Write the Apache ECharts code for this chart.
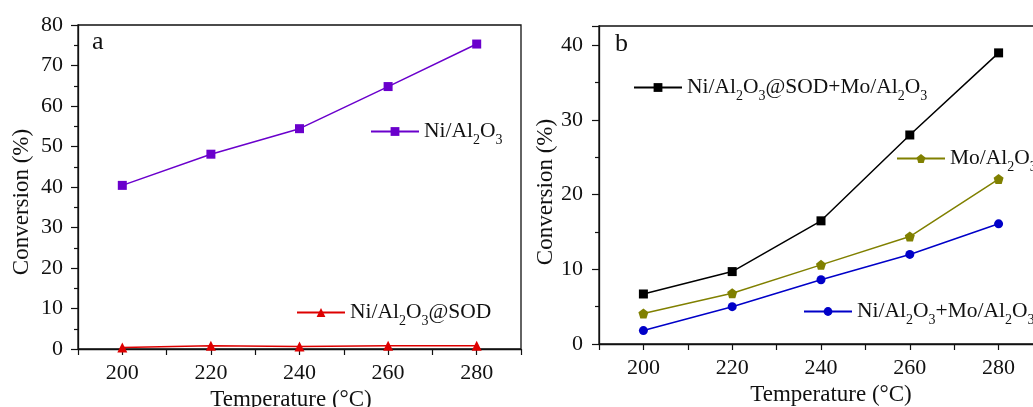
<!DOCTYPE html>
<html><head><meta charset="utf-8">
<script src="https://cdn.jsdelivr.net/npm/echarts@6/dist/echarts.min.js"></script>
<style>html,body{margin:0;padding:0;background:#fff}#c{width:1033px;height:407px}</style>
</head><body><div id="c"></div>
<script>
const temps = [200, 220, 240, 260, 280];
const niAl2O3 = [40.4, 48.1, 54.4, 64.8, 75.3];
const niAl2O3SOD = [0.4, 0.8, 0.6, 0.8, 0.8];
const niSODMo = [6.7, 9.7, 16.5, 28.0, 39.0];
const moAl2O3 = [4.1, 6.8, 10.6, 14.4, 22.1];
const niMo = [1.8, 5.0, 8.6, 12.0, 16.1];
const xLabels = ['200', '220', '240', '260', '280'];
const yTicksA = [0, 10, 20, 30, 40, 50, 60, 70, 80];
const yTicksB = [0, 10, 20, 30, 40];

const FONT = '"Liberation Serif", "DejaVu Serif", serif';
const pentagon = 'path://M0,-1 L0.951,-0.309 L0.588,0.809 L-0.588,0.809 L-0.951,-0.309 Z';
const pair = xs => temps.map((t, i) => [t, xs[i]]);

const names = {
  a1: 'Ni/Al{s|2}O{s|3}',
  a2: 'Ni/Al{s|2}O{s|3}@SOD',
  b1: 'Ni/Al{s|2}O{s|3}@SOD+Mo/Al{s|2}O{s|3}',
  b2: 'Mo/Al{s|2}O{s|3}',
  b3: 'Ni/Al{s|2}O{s|3}+Mo/Al{s|2}O{s|3}'
};

const rich = {
  s: {fontFamily: FONT, fontSize: 14, color: '#111', verticalAlign: 'bottom', lineHeight: 31}
};
const legendText = {fontFamily: FONT, fontSize: 21.5, color: '#111', lineHeight: 31, rich: rich};
const TICK_FS = 22;
const NAME_FS = 23;

function xAxis(gi, pad) {
  return {
    type: 'value', gridIndex: gi, min: 190, max: 290, interval: 10,
    name: 'Temperature (\u00B0C)', nameLocation: 'middle', nameGap: 37,
    nameTextStyle: {fontFamily: FONT, fontSize: NAME_FS, color: '#111', padding: pad},
    axisLine: {show: true, onZero: false, lineStyle: {color: '#111', width: 1.3}},
    axisTick: {show: true, inside: false, length: 6, lineStyle: {color: '#111', width: 1.2}},
    axisLabel: {
      margin: 13, fontFamily: FONT, fontSize: TICK_FS, color: '#111',
      formatter: v => (xLabels.indexOf(String(v)) >= 0 ? String(v) : '')
    },
    splitLine: {show: false}
  };
}
function yAxis(gi, max, ticks, gap, margin, pad) {
  return {
    type: 'value', gridIndex: gi, min: 0, max: max, interval: 10,
    name: 'Conversion (%)', nameLocation: 'middle', nameGap: gap,
    nameTextStyle: {fontFamily: FONT, fontSize: NAME_FS, color: '#111', padding: pad},
    axisLine: {show: true, lineStyle: {color: '#111', width: 1.3}},
    axisTick: {show: true, inside: false, length: 7, lineStyle: {color: '#111', width: 1.2}},
    minorTick: {show: true, splitNumber: 2, length: 4, lineStyle: {color: '#111', width: 1.2}},
    axisLabel: {
      margin: margin, fontFamily: FONT, fontSize: TICK_FS, color: '#111',
      formatter: v => (ticks.indexOf(v) >= 0 ? String(v) : '')
    },
    splitLine: {show: false}
  };
}

function line(name, xi, data, color, symbol, size) {
  return {
    name: name, type: 'line', xAxisIndex: xi, yAxisIndex: xi, data: pair(data),
    symbol: symbol, symbolSize: size, showSymbol: true,
    itemStyle: {color: color}, lineStyle: {color: color, width: 1.5},
    emphasis: {disabled: true}, animation: false
  };
}
function legend(name, left, top) {
  return {
    data: [name], left: left, top: top, itemWidth: 48, itemHeight: 11, itemGap: 0,
    padding: 0, textStyle: legendText, selectedMode: false
  };
}

const chart = echarts.init(document.getElementById('c'), null, {renderer: 'canvas'});
chart.setOption({
  animation: false,
  backgroundColor: '#fff',
  grid: [
    {left: 78, top: 25, width: 443, height: 324, show: true, borderColor: '#111', borderWidth: 1.3,
     containLabel: false, outerBoundsMode: 'none'},
    {left: 599, top: 26, width: 444, height: 318, show: true, borderColor: '#111', borderWidth: 1.3,
     containLabel: false, outerBoundsMode: 'none'}
  ],
  xAxis: [xAxis(0, [0, 17, 0, 0]), xAxis(1, [0, 0, 0, 20])],
  yAxis: [yAxis(0, 80, yTicksA, 45, 15, [0, 30, 0, 0]), yAxis(1, 42.6, yTicksB, 35, 16, [0, 14, 0, 0])],
  legend: [
    legend(names.a1, 370, 116),
    legend(names.a2, 296, 297),
    legend(names.b1, 633, 72),
    legend(names.b2, 896, 143),
    legend(names.b3, 803, 296)
  ],
  graphic: [
    {type: 'text', left: 92, top: 29, style: {text: 'a', font: '26px ' + FONT, fill: '#111'}},
    {type: 'text', left: 615, top: 31, style: {text: 'b', font: '26px ' + FONT, fill: '#111'}}
  ],
  series: [
    line(names.a1, 0, niAl2O3, '#6a00cc', 'rect', 9),
    line(names.a2, 0, niAl2O3SOD, '#dd0000', 'triangle', 10),
    line(names.b1, 1, niSODMo, '#000000', 'rect', 9),
    line(names.b2, 1, moAl2O3, '#808000', pentagon, 10),
    line(names.b3, 1, niMo, '#0000c8', 'circle', 9)
  ]
});
</script></body></html>
